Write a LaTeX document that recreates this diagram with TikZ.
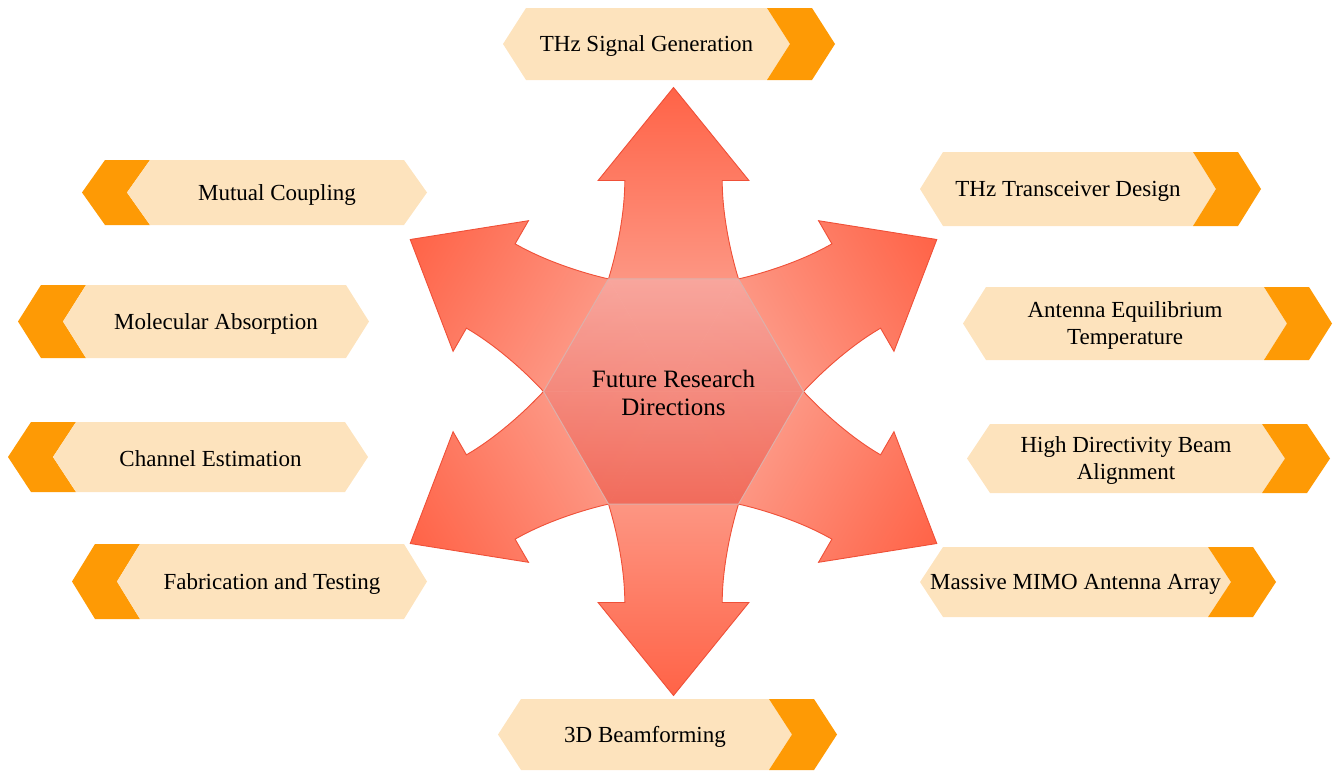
\documentclass[tikz,border=0pt]{standalone}
\usepackage{fontspec}
\setmainfont{Liberation Serif}
\definecolor{boxlight}{HTML}{FDE3BD}
\definecolor{boxorange}{HTML}{FE9A05}
\definecolor{arrowtip}{HTML}{FF6347}
\definecolor{arrowbase}{HTML}{FCB3A5}
\definecolor{arrowline}{HTML}{EF5038}
\definecolor{hextop}{HTML}{F8A8A0}
\definecolor{hexbot}{HTML}{F06757}
\definecolor{hexline}{HTML}{DDB0AA}
\tikzset{
  lbl/.style={font=\fontsize{23}{26.5}\selectfont, align=center, inner sep=0pt, text=black, yshift=-2pt},
  ctr/.style={font=\fontsize{25}{28}\selectfont, align=center, inner sep=0pt, text=black},
  armfill/.style={top color=arrowtip, bottom color=arrowbase},
  armline/.style={draw=arrowline, line width=0.9pt, line join=miter},
}
% arrow of the star, rotated about the centre
\newcommand\starArm[1]{%
  \begin{scope}[transform canvas={shift={(673.5pt,-391.5pt)},rotate=#1}]
    \path[armfill] (0,0) -- (-65,-112.6) .. controls (-58,-135) and (-48.7,-175) .. (-48.7,-211)
      -- (-75.4,-211) -- (0,-304) -- (75.4,-211) -- (48.7,-211)
      .. controls (48.7,-175) and (58,-135) .. (65,-112.6) -- cycle;
    \draw[armline] (-65,-112.6) .. controls (-58,-135) and (-48.7,-175) .. (-48.7,-211)
      -- (-75.4,-211) -- (0,-304) -- (75.4,-211) -- (48.7,-211)
      .. controls (48.7,-175) and (58,-135) .. (65,-112.6);
  \end{scope}}
% label box, orange chevron on the right: L R T B name text
\newcommand\boxRight[6]{%
  \pgfmathsetmacro\ymid{(#3+#4)/2}%
  \pgfmathsetmacro\xmid{(#1+#2-45)/2}%
  \fill[boxlight] (#1+23,#3) -- (#2-68,#3) -- (#2-45,\ymid) -- (#2-68,#4) -- (#1+23,#4) -- (#1,\ymid) -- cycle;
  \fill[boxorange] (#2-68,#3) -- (#2-23,#3) -- (#2,\ymid) -- (#2-23,#4) -- (#2-68,#4) -- (#2-45,\ymid) -- cycle;
  \node[lbl] (#5) at (\xmid,\ymid) {#6};}
% label box, orange chevron on the left
\newcommand\boxLeft[6]{%
  \pgfmathsetmacro\ymid{(#3+#4)/2}%
  \pgfmathsetmacro\xmid{(#1+45+#2)/2}%
  \fill[boxorange] (#1,\ymid) -- (#1+23,#3) -- (#1+68,#3) -- (#1+45,\ymid) -- (#1+68,#4) -- (#1+23,#4) -- cycle;
  \fill[boxlight] (#1+68,#3) -- (#2-23,#3) -- (#2,\ymid) -- (#2-23,#4) -- (#1+68,#4) -- (#1+45,\ymid) -- cycle;
  \node[lbl] (#5) at (\xmid,\ymid) {#6};}
\begin{document}
\begin{tikzpicture}[x=1pt,y=-1pt]
  \useasboundingbox (0,0) rectangle (1337,771);
  % star arrows
  \starArm{0}
  \starArm{60}
  \starArm{120}
  \starArm{180}
  \starArm{240}
  \starArm{300}
  % centre hexagon
  \path[fill opacity=0.9, top color=hextop, bottom color=hexbot]
    (543.5,391.5) -- (608.5,278.9) -- (738.5,278.9) -- (803.5,391.5) -- (738.5,504.1) -- (608.5,504.1) -- cycle;
  \draw[hexline, line width=1pt]
    (543.5,391.5) -- (608.5,278.9) -- (738.5,278.9) -- (803.5,391.5) -- (738.5,504.1) -- (608.5,504.1) -- cycle;
  \node[ctr] (centre) at (673.5,393) {Future Research\\Directions};
  % label boxes
  \boxRight{503}{835}{8}{80}{sig}{THz Signal Generation}
  \boxLeft{82}{427}{160}{225}{mut}{Mutual Coupling}
  \boxRight{920}{1261}{152}{226}{trx}{THz Transceiver Design}
  \boxLeft{18}{369}{285}{358}{mol}{Molecular Absorption}
  \boxRight{963}{1332}{287}{360}{ant}{Antenna Equilibrium\\Temperature}
  \boxLeft{8}{368}{422}{492}{che}{Channel Estimation}
  \boxRight{967}{1330}{424}{493}{hdb}{High Directivity Beam\\Alignment}
  \boxLeft{72}{427}{544}{619}{fab}{Fabrication and Testing}
  \boxRight{920}{1276}{547}{617}{mimo}{Massive MIMO Antenna Array}
  \boxRight{498}{837}{699}{770}{bf}{3D Beamforming}
\end{tikzpicture}
\end{document}
